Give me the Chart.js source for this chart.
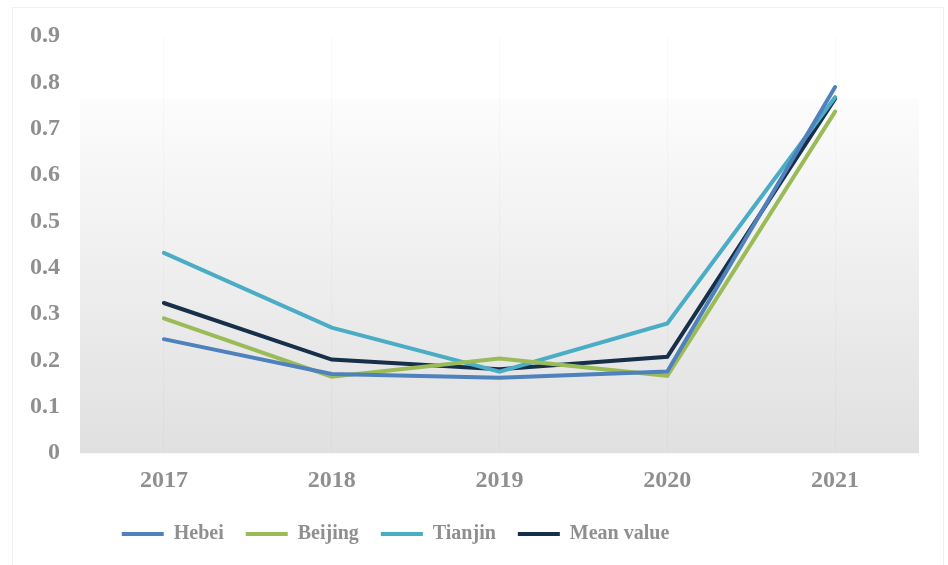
<!DOCTYPE html>
<html>
<head>
<meta charset="utf-8">
<script src="https://cdn.jsdelivr.net/npm/chart.js@4.4.1/dist/chart.umd.min.js"></script>
<style>
  html, body { margin: 0; padding: 0; background: #fff; }
  #frame { position: absolute; left: 12px; top: 7px; width: 932px; height: 570px; border: 1px solid #f0f0f0; box-sizing: border-box; }
  #wrap { position: absolute; left: 0; top: 0; width: 948px; height: 565px; }
</style>
</head>
<body>
<div id="frame"></div>
<div id="wrap"><canvas id="lineChart"></canvas></div>
<script>
// values
var years = ['2017', '2018', '2019', '2020', '2021'];
var hebei = [0.246, 0.171, 0.163, 0.176, 0.790];
var beijing = [0.291, 0.165, 0.204, 0.167, 0.737];
var tianjin = [0.432, 0.271, 0.176, 0.280, 0.768];
var meanValue = [0.324, 0.202, 0.181, 0.208, 0.765];
var yTicks = [0, 0.1, 0.2, 0.3, 0.4, 0.5, 0.6, 0.7, 0.8, 0.9];

var grey = '#8f8f8f';
var serif = '"Liberation Serif", "Times New Roman", serif';

function series(label, data, color) {
    return {
        label: label,
        data: data,
        borderColor: color,
        backgroundColor: color,
        borderWidth: 4,
        borderCapStyle: 'round',
        pointRadius: 0,
        pointHoverRadius: 0,
        tension: 0
    };
}

// soft grey gradient behind the lower part of the plot
var plotBackground = {
    id: 'plotBackground',
    beforeDraw: function (chart) {
        var area = chart.chartArea;
        var ctx = chart.ctx;
        var top = area.top + (area.bottom - area.top) * 0.15;
        var grad = ctx.createLinearGradient(0, top, 0, area.bottom);
        grad.addColorStop(0, '#fcfcfc');
        grad.addColorStop(1, '#e0e0e0');
        ctx.save();
        ctx.fillStyle = grad;
        ctx.fillRect(area.left, top, area.right - area.left, area.bottom - top);
        ctx.restore();
    }
};

// the legend sits a bit left of centre and a bit higher in the original
var legendShift = {
    id: 'legendShift',
    afterLayout: function (chart) {
        chart.legend.left -= 64;
        chart.legend.right -= 64;
        chart.legend.top -= 11;
        chart.legend.bottom -= 11;
    }
};

var ctx = document.getElementById('lineChart');

new Chart(ctx, {
    type: 'line',
    data: {
        labels: years,
        datasets: [
            series('Hebei', hebei, '#4f81bd'),
            series('Beijing', beijing, '#9bbb59'),
            series('Tianjin', tianjin, '#4bacc6'),
            series('Mean value', meanValue, '#17304a')
        ]
    },
    options: {
        responsive: true,
        maintainAspectRatio: false,
        animation: false,
        layout: {
            padding: { top: 36, right: 29, left: 0, bottom: 0 }
        },
        plugins: {
            tooltip: { enabled: false },
            legend: {
                position: 'bottom',
                labels: {
                    usePointStyle: true,
                    pointStyle: 'line',
                    pointStyleWidth: 42,
                    padding: 22,
                    color: grey,
                    font: { family: serif, size: 20, weight: 'bold' }
                }
            }
        },
        scales: {
            x: {
                offset: true,
                afterFit: function (scale) {
                    scale.height += 5;
                },
                grid: {
                    offset: false,
                    color: 'rgba(0,0,0,0.018)',
                    drawTicks: false
                },
                border: { display: false },
                ticks: {
                    color: grey,
                    padding: 13,
                    font: { family: serif, size: 24, weight: 'bold' }
                }
            },
            y: {
                min: 0,
                max: 0.9,
                afterBuildTicks: function (scale) {
                    scale.ticks = yTicks.map(function (v) { return { value: v }; });
                },
                afterFit: function (scale) {
                    scale.width = 80;
                },
                grid: { display: false },
                border: { display: false },
                ticks: {
                    color: grey,
                    padding: 12,
                    font: { family: serif, size: 24, weight: 'bold' },
                    callback: function (v) { return v === 0 ? '0' : v.toFixed(1); }
                }
            }
        }
    },
    plugins: [plotBackground, legendShift]
});
</script>
</body>
</html>
